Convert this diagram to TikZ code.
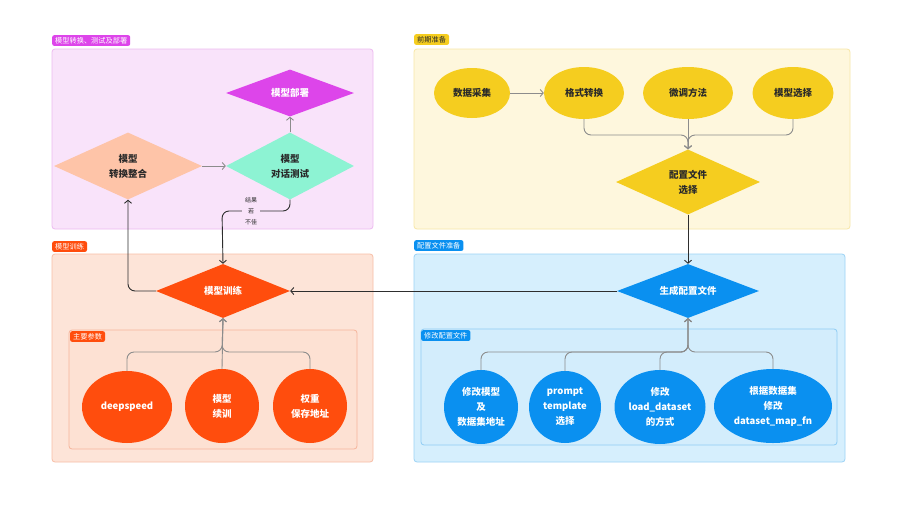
\documentclass[tikz,border=0pt]{standalone}
\usepackage{fontspec}
\setmainfont{Noto Sans CJK SC}
\usetikzlibrary{shapes.geometric,arrows.meta,calc}
\definecolor{cmag}{HTML}{DD45EA}
\definecolor{csal}{HTML}{FEC4A8}
\definecolor{cmint}{HTML}{8DF3D3}
\definecolor{corg}{HTML}{FF4D0D}
\definecolor{cblue}{HTML}{0A90F0}
\definecolor{cyel}{HTML}{F5CD1F}
\definecolor{txtd}{HTML}{2A2A2A}
\definecolor{agray}{HTML}{8C8C8C}
\definecolor{adark}{HTML}{2E2E2E}
\definecolor{pinkfill}{HTML}{F9E3FA}
\definecolor{pinkline}{HTML}{EDBBF0}
\definecolor{yelfill}{HTML}{FEF7DD}
\definecolor{yelline}{HTML}{F8E7A8}
\definecolor{orgfill}{HTML}{FDE4D8}
\definecolor{orgline}{HTML}{F8BFA7}
\definecolor{orgin}{HTML}{FDE1D3}
\definecolor{orginline}{HTML}{F5B59C}
\definecolor{bluefill}{HTML}{D6EFFD}
\definecolor{blueline}{HTML}{9DD3F6}
\definecolor{bluein}{HTML}{D3EDFC}
\definecolor{blueinline}{HTML}{8FCCF4}
\begin{document}
\begin{tikzpicture}[x=1pt,y=-1pt,
  panel/.style={rounded corners=3pt, line width=0.8pt},
  tag/.style={anchor=north west, rounded corners=2pt, inner xsep=3pt, inner ysep=2pt, font=\fontsize{7.2}{8}\selectfont},
  dia/.style={diamond, inner sep=0pt, aspect=2.5, align=center, font=\bfseries\fontsize{9.5}{15}\selectfont},
  ell/.style={ellipse, inner sep=0pt, align=center, font=\bfseries\fontsize{9.5}{15}\selectfont},
  garrow/.style={draw=agray, line width=0.9pt, rounded corners=7pt, -{Straight Barb[length=3pt,width=7pt]}},
  darrow/.style={draw=adark, line width=0.9pt, rounded corners=7pt, -{Straight Barb[length=3pt,width=7pt]}}
]
\useasboundingbox[fill=white] (0,0) rectangle (905,512);

% panels
\path[panel, fill=pinkfill, draw=pinkline] (52,49) rectangle (373,229);
\path[panel, fill=yelfill, draw=yelline] (414,49) rectangle (850,229);
\path[panel, fill=orgfill, draw=orgline] (52,254) rectangle (373,462);
\path[panel, fill=orgin, draw=orginline] (69,330) rectangle (357,449);
\path[panel, fill=bluefill, draw=blueline] (414,254) rectangle (845,462);
\path[panel, fill=bluein, draw=blueinline] (421,329) rectangle (837,445);

% tags
\node[tag, fill=cmag, text=white] (t1) at (52,35) {模型转换、测试及部署};
\node[tag, fill=cyel, text=txtd] (t2) at (414,34) {前期准备};
\node[tag, fill=corg, text=white] (t3) at (52,241) {模型训练};
\node[tag, fill=cblue, text=white] (t4) at (414,240) {配置文件准备};
\node[tag, fill=corg, text=white] (t5) at (70,331) {主要参数};
\node[tag, fill=cblue, text=white] (t6) at (421,330) {修改配置文件};

% diamonds
\node[dia, fill=cmag, text=white, minimum width=128pt, minimum height=47pt] (bs) at (290,93) {模型部署};
\node[dia, fill=csal, text=txtd, minimum width=148pt, minimum height=67pt] (zh) at (128,166) {模型\\转换整合};
\node[dia, fill=cmint, text=txtd, minimum width=128pt, minimum height=67pt] (cs) at (290,166) {模型\\对话测试};
\node[dia, fill=corg, text=white, minimum width=134pt, minimum height=54pt] (xl) at (223,291) {模型训练};
\node[dia, fill=cblue, text=white, minimum width=142pt, minimum height=54pt] (sc) at (688,291) {生成配置文件};
\node[dia, fill=cyel, text=txtd, minimum width=144pt, minimum height=65pt] (pz) at (688,182) {配置文件\\选择};

% yellow ellipses
\node[ell, fill=cyel, text=txtd, minimum width=76pt, minimum height=50pt] (sj) at (472,93) {数据采集};
\node[ell, fill=cyel, text=txtd, minimum width=80pt, minimum height=52pt] (gs) at (584,93) {格式转换};
\node[ell, fill=cyel, text=txtd, minimum width=90pt, minimum height=52pt] (wt) at (688,93) {微调方法};
\node[ell, fill=cyel, text=txtd, minimum width=81pt, minimum height=52pt] (mx) at (793,93) {模型选择};

% orange ellipses
\node[ell, fill=corg, text=white, minimum width=90pt, minimum height=72pt] (ds) at (127,407) {deepspeed};
\node[ell, fill=corg, text=white, minimum width=74pt, minimum height=74pt] (xx) at (222,406) {模型\\续训};
\node[ell, fill=corg, text=white, minimum width=74pt, minimum height=74pt] (qz) at (310,406) {权重\\保存地址};

% blue ellipses
\node[ell, fill=cblue, text=white, minimum width=74pt, minimum height=74pt] (b1) at (481,407) {修改模型\\及\\数据集地址};
\node[ell, fill=cblue, text=white, minimum width=72pt, minimum height=72pt] (b2) at (565,407) {prompt\\template\\选择};
\node[ell, fill=cblue, text=white, minimum width=91pt, minimum height=74pt] (b3) at (660,407) {修改\\load\_dataset\\的方式};
\node[ell, fill=cblue, text=white, minimum width=118pt, minimum height=74pt] (b4) at (773,406) {根据数据集\\修改\\dataset\_map\_fn};

% merge points
\coordinate (ym) at (688,135);
\coordinate (om) at (222,352);
\coordinate (bm) at (688,352);
\coordinate (lp) at (222,211);

% connectors inside panels
\draw[garrow] (zh.east) -- (cs.west);
\draw[garrow] (cs.north) -- (bs.south);
\draw[garrow] (sj.east) -- (gs.west);
\draw[garrow] (gs.south) |- (ym) -- (pz.north);
\draw[garrow] (mx.south) |- (ym) -- (pz.north);
\draw[garrow] (wt.south) -- (pz.north);

\draw[garrow] (ds.north) |- (om) -- (xl.south);
\draw[garrow] (qz.north) |- (om) -- (xl.south);
\draw[garrow] (xx.north) -- (xl.south);

\draw[garrow] (b1.north) |- (bm) -- (sc.south);
\draw[garrow] (b2.north) |- (bm) -- (sc.south);
\draw[garrow] (b3.north) |- (bm) -- (sc.south);
\draw[garrow] (b4.north) |- (bm) -- (sc.south);

% cross-panel connectors
\draw[darrow] (pz.south) -- (sc.north);
\draw[darrow] (sc.west) -- (xl.east);
\draw[darrow] (xl.west) -| (zh.south);
\draw[darrow] (cs.south) |- (lp) -- (xl.north);
\node[fill=pinkfill, inner xsep=3pt, inner ysep=1pt, align=center, text=txtd, font=\fontsize{6}{11}\selectfont] (lbl) at (251,211) {结果\\若\\不佳};

\end{tikzpicture}
\end{document}
